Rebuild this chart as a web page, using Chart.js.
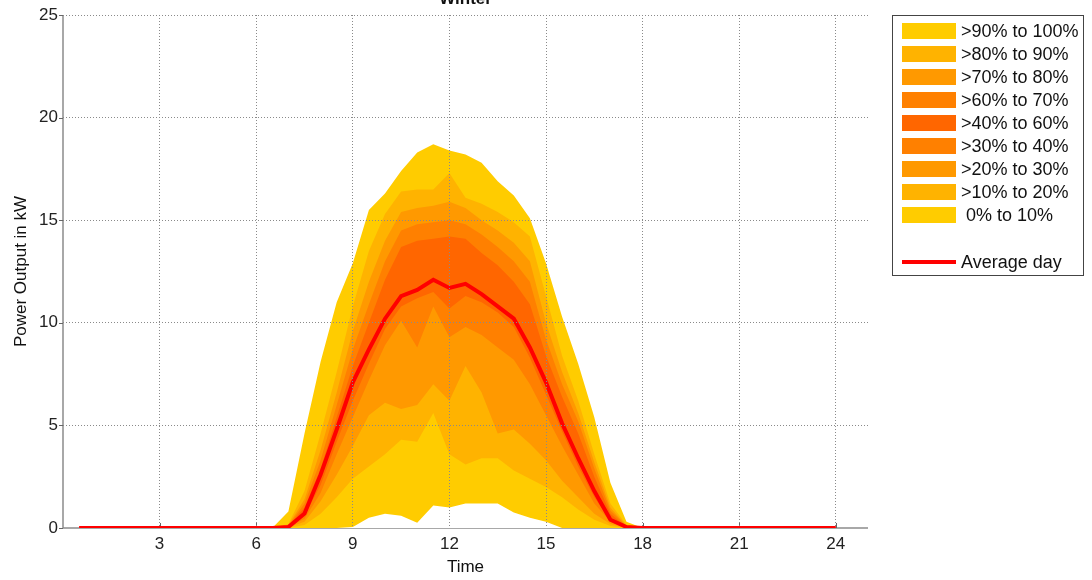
<!DOCTYPE html>
<html>
<head>
<meta charset="utf-8">
<script src="https://cdn.jsdelivr.net/npm/chart.js@4/dist/chart.umd.min.js"></script>
<style>
  html, body { margin: 0; padding: 0; background: #fff; }
  #wrap { position: relative; width: 1092px; height: 580px; overflow: hidden; }
  #chartBox { position: absolute; left: 0; top: -13px; width: 1092px; height: 593px; }
  #legend {
    position: absolute; left: 892px; top: 15px; width: 192px; height: 261px;
    border: 1px solid #444; box-sizing: border-box;
    font-family: "Liberation Sans", Arial, sans-serif; font-size: 18px; color: #111;
  }
  .row { position: absolute; left: 9px; height: 16px; display: flex; align-items: center; }
  .sw { width: 54px; height: 16px; margin-right: 5px; }
  .ln { width: 54px; height: 4px; margin-right: 5px; background: #f00; }
</style>
</head>
<body>
<div id="wrap">
  <div id="chartBox"><canvas id="winterChart"></canvas></div>
  <div id="legend"></div>
</div>
<script>
// Half-hourly time axis for the average day
const hours = [0.5, 1, 1.5, 2, 2.5, 3, 3.5, 4, 4.5, 5, 5.5, 6, 6.5, 7, 7.5, 8, 8.5, 9, 9.5, 10,
  10.5, 11, 11.5, 12, 12.5, 13, 13.5, 14, 14.5, 15, 15.5, 16, 16.5, 17, 17.5, 18, 18.5, 19,
  19.5, 20, 20.5, 21, 21.5, 22, 22.5, 23, 23.5, 24];

const averageDay = [0, 0, 0, 0, 0, 0, 0, 0, 0, 0, 0, 0, 0, 0.05, 0.7, 2.6, 4.8, 7.1, 8.7, 10.2,
  11.3, 11.6, 12.1, 11.7, 11.9, 11.4, 10.8, 10.2, 8.8, 7.1, 5.1, 3.4, 1.8, 0.4, 0.05, 0, 0, 0,
  0, 0, 0, 0, 0, 0, 0, 0, 0, 0];

// Percentile curves (only daylight hours have output)
const bandHours = [6.5, 7, 7.5, 8, 8.5, 9, 9.5, 10, 10.5, 11, 11.5, 12, 12.5, 13, 13.5, 14,
  14.5, 15, 15.5, 16, 16.5, 17, 17.5, 18];

const p100 = [0, 0.8, 4.6, 8.1, 11.0, 12.9, 15.5, 16.3, 17.4, 18.3, 18.7, 18.4, 18.2, 17.8, 16.9, 16.2, 15.1, 12.9, 10.3, 8.0, 5.4, 2.2, 0.3, 0];
const p90  = [0, 0.2, 1.8, 4.6, 7.6, 10.8, 13.5, 15.3, 16.4, 16.5, 16.5, 17.3, 16.1, 15.8, 15.4, 14.9, 14.2, 11.3, 8.4, 6.2, 3.6, 1.2, 0.15, 0];
const p80  = [0, 0.15, 1.4, 3.8, 6.6, 9.6, 12.0, 14.0, 15.4, 15.6, 15.7, 15.9, 15.6, 15.0, 14.5, 13.9, 13.0, 10.0, 7.6, 5.6, 3.2, 1.0, 0.1, 0];
const p70  = [0, 0.12, 1.2, 3.3, 6.0, 8.7, 10.9, 13.0, 14.5, 14.8, 14.9, 15.0, 14.8, 14.3, 13.7, 13.0, 12.0, 9.2, 7.0, 5.2, 2.9, 0.85, 0.08, 0];
const p60  = [0, 0.1, 1.0, 2.9, 5.4, 7.9, 10.0, 12.1, 13.7, 14.0, 14.1, 14.2, 14.1, 13.4, 12.8, 12.0, 10.9, 8.4, 6.4, 4.6, 2.5, 0.7, 0.05, 0];
const p40  = [0, 0.05, 0.6, 2.1, 4.2, 6.2, 8.0, 9.7, 10.8, 11.2, 11.5, 10.7, 11.3, 11.0, 10.5, 9.8, 8.3, 6.5, 4.7, 3.0, 1.5, 0.35, 0.02, 0];
const p30  = [0, 0.04, 0.45, 1.7, 3.6, 5.4, 7.2, 8.9, 10.1, 8.8, 10.8, 9.3, 9.8, 9.4, 8.8, 8.2, 7.0, 5.5, 4.0, 2.6, 1.2, 0.3, 0, 0];
const p20  = [0, 0.03, 0.3, 1.3, 2.6, 4.0, 5.5, 6.1, 5.8, 6.0, 7.0, 6.2, 7.9, 6.6, 4.6, 4.8, 4.1, 3.3, 2.3, 1.5, 0.7, 0.2, 0, 0];
const p10  = [0, 0, 0.15, 0.7, 1.5, 2.4, 3.0, 3.6, 4.3, 4.2, 5.6, 3.6, 3.1, 3.4, 3.4, 2.8, 2.4, 2.0, 1.5, 0.9, 0.4, 0.1, 0, 0];
const p0   = [0, 0, 0, 0, 0, 0.05, 0.5, 0.7, 0.6, 0.25, 1.1, 1.0, 1.2, 1.2, 1.2, 0.75, 0.5, 0.3, 0, 0, 0, 0, 0, 0];

const bandLabels = [">90% to 100%", ">80% to 90%", ">70% to 80%", ">60% to 70%", ">40% to 60%",
  ">30% to 40%", ">20% to 30%", ">10% to 20%", " 0% to 10%"];
const bandColors = ["#ffcc00", "#ffb300", "#ff9900", "#ff8000", "#ff6600",
  "#ff8000", "#ff9900", "#ffb300", "#ffcc00"];
// upper curve of each band, same order as the labels
const bandTops = [p100, p90, p80, p70, p60, p40, p30, p20, p10];

const xTicks = [3, 6, 9, 12, 15, 18, 21, 24];
const yTicks = [0, 5, 10, 15, 20, 25];

function pts(xs, ys) {
  return xs.map((x, i) => ({ x: x, y: ys[i] }));
}

// each band is filled from its upper curve down to zero; later (lower) bands paint over it
const datasets = [{
  label: "Average day",
  data: pts(hours, averageDay),
  borderColor: "#ff0000",
  borderWidth: 4,
  pointRadius: 0,
  fill: false
}, {
  label: "min",
  data: pts(bandHours, p0),
  borderWidth: 0,
  pointRadius: 0,
  backgroundColor: "#ffffff",
  fill: "origin"
}];
for (let i = bandTops.length - 1; i >= 0; i--) {
  datasets.push({
    label: bandLabels[i],
    data: pts(bandHours, bandTops[i]),
    borderWidth: 0,
    borderColor: bandColors[i],
    pointRadius: 0,
    backgroundColor: bandColors[i],
    fill: "origin"
  });
}

const FONT = "'Liberation Sans', Arial, sans-serif";
const AXIS = "#8c8c8c";

// axis lines, small tick marks and the (half cut off) title
const frame = {
  id: "frame",
  beforeDatasetsDraw(chart) {
    const { ctx, chartArea: a, scales } = chart;
    ctx.save();
    ctx.strokeStyle = AXIS;
    ctx.lineWidth = 1.5;
    ctx.beginPath();
    ctx.moveTo(a.left, a.top);
    ctx.lineTo(a.left, a.bottom);
    ctx.lineTo(a.right, a.bottom);
    ctx.stroke();
    ctx.strokeStyle = "#666";
    ctx.lineWidth = 1;
    ctx.beginPath();
    xTicks.forEach(v => {
      const x = Math.round(scales.x.getPixelForValue(v)) + 0.5;
      ctx.moveTo(x, a.bottom);
      ctx.lineTo(x, a.bottom - 5);
    });
    yTicks.forEach(v => {
      const y = Math.round(scales.y.getPixelForValue(v)) + 0.5;
      ctx.moveTo(a.left, y);
      ctx.lineTo(a.left - 4, y);
    });
    ctx.stroke();
    ctx.restore();
  },
  afterDraw(chart) {
    const { ctx, chartArea: a } = chart;
    ctx.save();
    ctx.fillStyle = "#111";
    ctx.font = "bold 17px " + FONT;
    ctx.textAlign = "center";
    ctx.textBaseline = "alphabetic";
    ctx.fillText("Winter", (a.left + a.right) / 2, 16.5);
    ctx.restore();
  }
};

new Chart(document.getElementById("winterChart"), {
  type: "line",
  data: { datasets },
  plugins: [frame],
  options: {
    responsive: true,
    maintainAspectRatio: false,
    animation: false,
    events: [],
    layout: { padding: { left: 0, right: 224, top: 28, bottom: 2 } },
    plugins: {
      legend: { display: false },
      tooltip: { enabled: false },
      title: { display: false }
    },
    scales: {
      x: {
        type: "linear",
        min: 0,
        max: 25,
        afterBuildTicks: s => { s.ticks = xTicks.map(v => ({ value: v })); },
        afterFit: s => { s.height = 50; },
        grid: { z: 1, color: "#8a8a8a", lineWidth: 1, drawTicks: false },
        border: { display: false, dash: [1, 2] },
        ticks: { color: "#222", padding: 6, font: { family: FONT, size: 17 } },
        title: {
          display: true, text: "Time", color: "#111",
          font: { family: FONT, size: 17 }, padding: { top: 0, bottom: 0 }
        }
      },
      y: {
        min: 0,
        max: 25,
        afterBuildTicks: s => { s.ticks = yTicks.map(v => ({ value: v })); },
        afterFit: s => { s.width = 63; },
        grid: {
          z: 1, lineWidth: 1, drawTicks: false,
          color: c => c.tick && c.tick.value === 0 ? "rgba(0,0,0,0)" : "#8a8a8a"
        },
        border: { display: false, dash: [1, 2] },
        ticks: { color: "#222", padding: 5, font: { family: FONT, size: 17 } },
        title: {
          display: true, text: "Power Output in kW", color: "#111",
          font: { family: FONT, size: 17 }, padding: { top: 11, bottom: 0 }
        }
      }
    }
  }
});

// legend box at the right, drawn as html text
const legend = document.getElementById("legend");
bandLabels.forEach((lab, i) => {
  const row = document.createElement("div");
  row.className = "row";
  row.style.top = (7 + 23 * i) + "px";
  row.innerHTML = '<span class="sw" style="background:' + bandColors[i] + '"></span><span style="white-space:pre">' + lab + '</span>';
  legend.appendChild(row);
});
const avgRow = document.createElement("div");
avgRow.className = "row";
avgRow.style.top = "238px";
avgRow.innerHTML = '<span class="ln"></span><span>Average day</span>';
legend.appendChild(avgRow);
</script>
</body>
</html>
